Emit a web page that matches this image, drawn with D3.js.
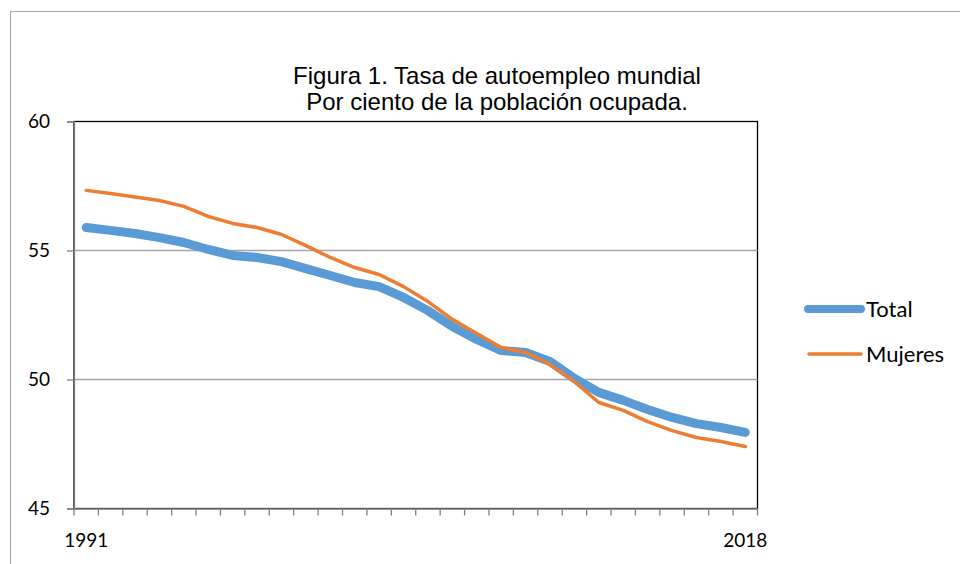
<!DOCTYPE html>
<html>
<head>
<meta charset="utf-8">
<script src="https://cdn.jsdelivr.net/npm/d3@7"></script>
<style>
  body { margin: 0; background: #fff; }
  svg { display: block; }
</style>
</head>
<body>
<div id="chart"></div>
<script>
// data (percent of employed population)
var years = d3.range(1991, 2019).map(String);
var total = [55.89, 55.78, 55.66, 55.50, 55.31, 55.04, 54.81, 54.73, 54.57, 54.30,
  54.03, 53.76, 53.60, 53.18, 52.67, 52.05, 51.55, 51.12, 51.05, 50.70,
  50.04, 49.50, 49.19, 48.84, 48.53, 48.29, 48.14, 47.95];
var mujeres = [57.33, 57.21, 57.07, 56.94, 56.71, 56.32, 56.05, 55.89, 55.62, 55.19,
  54.73, 54.34, 54.07, 53.60, 53.02, 52.33, 51.78, 51.24, 51.05, 50.58,
  49.92, 49.11, 48.80, 48.37, 48.02, 47.75, 47.60, 47.40];
var yTicks = [45, 50, 55, 60];
var xLabels = ["1991", "2018"];
var seriesNames = ["Total", "Mujeres"];

var svgWidth = 960;
var svgHeight = 564;
var margin = { top: 121.5, left: 74, right: 202.5, bottom: 55.5 };
var width = svgWidth - margin.left - margin.right;
var height = svgHeight - margin.top - margin.bottom;

var tickFont = "Lato, 'Open Sans', sans-serif";

var svg = d3.select("#chart")
  .append("svg")
  .attr("width", svgWidth)
  .attr("height", svgHeight);

// outer chart frame
svg.append("rect")
  .attr("x", 10.5)
  .attr("y", 11.5)
  .attr("width", 960)
  .attr("height", 600)
  .attr("fill", "none")
  .attr("stroke", "#a6a6a6");

// title
var title = svg.append("text")
  .attr("text-anchor", "middle")
  .style("font-family", "'Liberation Sans', Arial, sans-serif")
  .style("font-size", "24px")
  .attr("fill", "#000");
title.append("tspan").attr("x", 497).attr("y", 84).text("Figura 1. Tasa de autoempleo mundial");
title.append("tspan").attr("x", 497).attr("y", 110).text("Por ciento de la población ocupada.");

var chartGroup = svg.append("g")
  .attr("transform", `translate(${margin.left}, ${margin.top})`);

var x = d3.scaleBand()
  .domain(years)
  .range([0, width]);

var y = d3.scaleLinear()
  .domain([45, 60])
  .range([height, 0]);

// plot area border
chartGroup.append("rect")
  .attr("width", width)
  .attr("height", height)
  .attr("fill", "none")
  .attr("stroke", "#000")
  .attr("stroke-width", 1.3);

// gridlines
chartGroup.selectAll("line.grid")
  .data(yTicks.filter(d => d > 45 && d < 60))
  .enter()
  .append("line")
  .attr("class", "grid")
  .attr("x1", 0)
  .attr("x2", width)
  .attr("y1", d => y(d))
  .attr("y2", d => y(d))
  .attr("stroke", "#a6a6a6")
  .attr("stroke-width", 1.3);

// y axis
var leftAxis = d3.axisLeft(y)
  .tickValues(yTicks)
  .tickSize(7)
  .tickPadding(17)
  .tickFormat(d3.format("d"));

var yAxis = chartGroup.append("g").call(leftAxis);
yAxis.select(".domain").attr("stroke", "#7f7f7f").attr("stroke-width", 1.3);
yAxis.selectAll(".tick line").attr("stroke", "#7f7f7f").attr("stroke-width", 1.3);
yAxis.selectAll(".tick text")
  .style("font-family", tickFont)
  .style("font-size", "19px")
  .attr("fill", "#000");

// x axis: ticks between categories, labels only first/last
var bottomAxis = d3.axisBottom(x)
  .tickValues(xLabels)
  .tickSize(0)
  .tickPadding(25);

var xAxis = chartGroup.append("g")
  .attr("transform", `translate(0, ${height})`)
  .call(bottomAxis);
xAxis.select(".domain").attr("stroke", "#7f7f7f").attr("stroke-width", 1.3);
xAxis.selectAll(".tick text")
  .style("font-family", tickFont)
  .style("font-size", "19px")
  .attr("fill", "#000");

var boundaries = years.map(d => x(d)).concat([width]);
xAxis.selectAll("line.cat")
  .data(boundaries)
  .enter()
  .append("line")
  .attr("class", "cat")
  .attr("x1", d => d)
  .attr("x2", d => d)
  .attr("y1", 0)
  .attr("y2", 7)
  .attr("stroke", "#7f7f7f")
  .attr("stroke-width", 1.3);

// lines
var line = d3.line()
  .x((d, i) => x(years[i]) + x.bandwidth() / 2)
  .y(d => y(d));

chartGroup.append("path")
  .datum(total)
  .attr("d", line)
  .attr("fill", "none")
  .attr("stroke", "#5b9bd5")
  .attr("stroke-width", 9)
  .attr("stroke-linecap", "round")
  .attr("stroke-linejoin", "round");

chartGroup.append("path")
  .datum(mujeres)
  .attr("d", line)
  .attr("fill", "none")
  .attr("stroke", "#ed7d31")
  .attr("stroke-width", 3.5)
  .attr("stroke-linecap", "round")
  .attr("stroke-linejoin", "round");

// legend
var legendColors = ["#5b9bd5", "#ed7d31"];
var legendWidths = [8, 3.5];
var legendY = [309, 354];

var legend = svg.selectAll("g.legend")
  .data(seriesNames)
  .enter()
  .append("g")
  .attr("class", "legend")
  .attr("transform", (d, i) => `translate(0, ${legendY[i]})`);

legend.append("line")
  .attr("x1", (d, i) => i === 0 ? 808 : 809)
  .attr("x2", 861)
  .attr("y1", 0)
  .attr("y2", 0)
  .attr("stroke", (d, i) => legendColors[i])
  .attr("stroke-width", (d, i) => legendWidths[i])
  .attr("stroke-linecap", "round");

legend.append("text")
  .attr("x", 866)
  .attr("dy", "0.35em")
  .style("font-family", tickFont)
  .style("font-size", "22px")
  .attr("fill", "#000")
  .text(d => d);
</script>
</body>
</html>
